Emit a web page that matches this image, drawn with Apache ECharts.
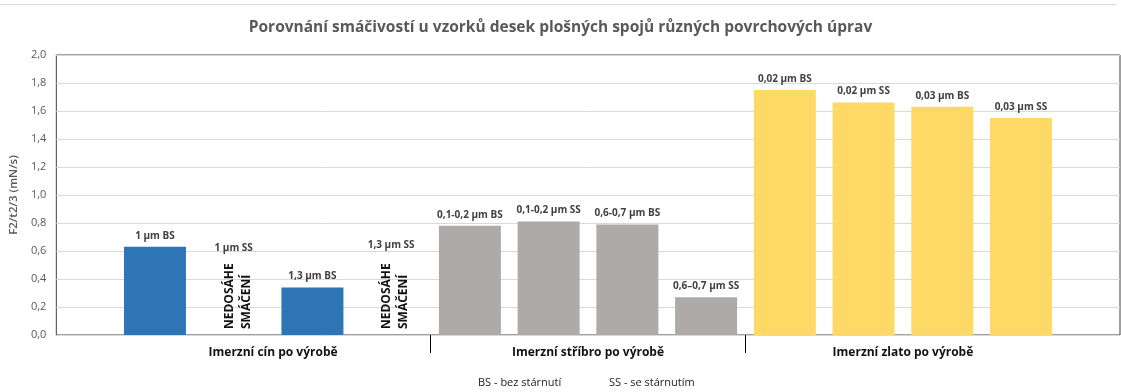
<!DOCTYPE html>
<html>
<head>
<meta charset="utf-8">
<script src="https://cdn.jsdelivr.net/npm/echarts@6/dist/echarts.min.js"></script>
<style>
  html, body { margin: 0; padding: 0; background: #fff; }
  #chart { width: 1121px; height: 392px; }
</style>
</head>
<body>
<div id="chart"></div>
<script>
// Sample labels, one per bar slot
const sampleLabels = [
  '1 µm BS', '1 µm SS', '1,3 µm BS', '1,3 µm SS',
  '0,1-0,2 µm BS', '0,1-0,2 µm SS', '0,6-0,7 µm BS', '0,6–0,7 µm SS',
  '0,02 µm BS', '0,02 µm SS', '0,03 µm BS', '0,03 µm SS'
];
// Wettability F2/t2/3 (mN/s); 0 where wetting was not reached
const wettability = [0.63, 0, 0.34, 0, 0.78, 0.81, 0.79, 0.27, 1.75, 1.66, 1.63, 1.55];
// Samples that never reached wetting
const notReached = [false, true, false, true, false, false, false, false, false, false, false, false];
// Surface finish groups (four samples each)
const groups = ['Imerzní cín po výrobě', 'Imerzní stříbro po výrobě', 'Imerzní zlato po výrobě'];
const groupOfSample = [0, 0, 0, 0, 1, 1, 1, 1, 2, 2, 2, 2];
const yTicks = { min: 0, max: 2, step: 0.2 };

const groupColors = ['#2E75B6', '#AEAAAA', '#FFD966'];
const FONT = '"Open Sans", "Noto Sans", sans-serif';

const barData = wettability.map((v, i) => {
  const item = { value: v, itemStyle: { color: groupColors[groupOfSample[i]] } };
  if (notReached[i]) {
    // caption of an unmeasured sample sits above the note text
    item.label = { offset: [0, i === 1 ? -76 : -79] };
  }
  return item;
});

const noteData = notReached.map(f => f ? 0 : null);

const chart = echarts.init(document.getElementById('chart'), null, { renderer: 'canvas' });

const plotTop = 55, plotBottom = 57;
// bar slots are inset from the frame on both sides
const slotLeft = 115.6, slotRight = 60.6;
const slotsWidth = 1121 - slotLeft - slotRight;
const groupBand = slotsWidth / groups.length;

chart.setOption({
  animation: false,
  backgroundColor: '#fff',
  title: {
    text: 'Porovnání smáčivostí u vzorků desek plošných spojů různých povrchových úprav',
    left: 'center',
    top: 15,
    textStyle: { fontFamily: FONT, fontSize: 15.5, fontWeight: 'bold', color: '#595959' }
  },
  graphic: [
    { type: 'line', shape: { x1: 0, y1: 4.5, x2: 1117, y2: 4.5 }, style: { stroke: '#D9D9D9', lineWidth: 1 } },
    { type: 'text', left: 478, top: 377, style: { text: 'BS - bez stárnutí', font: '11px ' + FONT, fill: '#222' } },
    { type: 'text', left: 609, top: 377, style: { text: 'SS - se stárnutím', font: '11px ' + FONT, fill: '#222' } }
  ],
  grid: [
    { left: 56, right: 1, top: plotTop, bottom: plotBottom, show: true, borderColor: '#404040', borderWidth: 1, backgroundColor: 'transparent' },
    { left: slotLeft, right: slotRight, top: plotTop, bottom: plotBottom },
    {
      left: slotLeft - groupBand, right: slotRight - groupBand, top: plotTop, bottom: plotBottom,
      outerBoundsMode: 'none', containLabel: false
    }
  ],
  xAxis: [
    { gridIndex: 0, type: 'value', min: 0, max: 1, show: false },
    { gridIndex: 1, type: 'category', data: sampleLabels, show: false },
    {
      gridIndex: 2, type: 'category', data: [''].concat(groups, ['']),
      position: 'bottom',
      axisLine: { show: false },
      axisTick: {
        show: true, length: 18,
        interval: (idx) => idx === 2 || idx === 3,
        lineStyle: { color: '#000', width: 1 }
      },
      axisLabel: {
        interval: 0, margin: 12,
        fontFamily: FONT, fontSize: 12, fontWeight: 'bold', color: '#111'
      }
    }
  ],
  yAxis: [
    {
      gridIndex: 0, type: 'value',
      min: yTicks.min, max: yTicks.max, interval: yTicks.step,
      name: 'F2/t2/3 (mN/s)', nameLocation: 'middle', nameGap: 30,
      nameTextStyle: { fontFamily: FONT, fontSize: 11.5, fontWeight: 600, color: '#595959' },
      axisLine: { show: false }, axisTick: { show: false },
      axisLabel: {
        margin: 10, fontFamily: FONT, fontSize: 11, color: '#595959',
        formatter: v => v.toFixed(1).replace('.', ',')
      },
      splitLine: { lineStyle: { color: '#D9D9D9', width: 1 } }
    },
    { gridIndex: 1, type: 'value', min: yTicks.min, max: yTicks.max, show: false },
    { gridIndex: 2, type: 'value', min: yTicks.min, max: yTicks.max, show: false }
  ],
  series: [
    {
      type: 'bar', xAxisIndex: 1, yAxisIndex: 1,
      barWidth: 62, barGap: '-100%',
      data: barData,
      label: {
        show: true, position: 'top', distance: 6,
        fontFamily: FONT, fontSize: 10, fontWeight: 'bold', color: '#404040',
        formatter: p => sampleLabels[p.dataIndex]
      }
    },
    {
      type: 'bar', xAxisIndex: 1, yAxisIndex: 1,
      barWidth: 62, barGap: '-100%',
      data: noteData,
      itemStyle: { color: 'transparent' },
      label: {
        show: true, position: 'insideBottom', distance: 6,
        rotate: 90, align: 'left', verticalAlign: 'middle',
        offset: [0, 4],
        lineHeight: 17,
        fontFamily: FONT, fontSize: 12, fontWeight: 'bold', color: '#111',
        formatter: 'NEDOSÁHE\nSMÁČENÍ'
      }
    }
  ]
});
</script>
</body>
</html>
